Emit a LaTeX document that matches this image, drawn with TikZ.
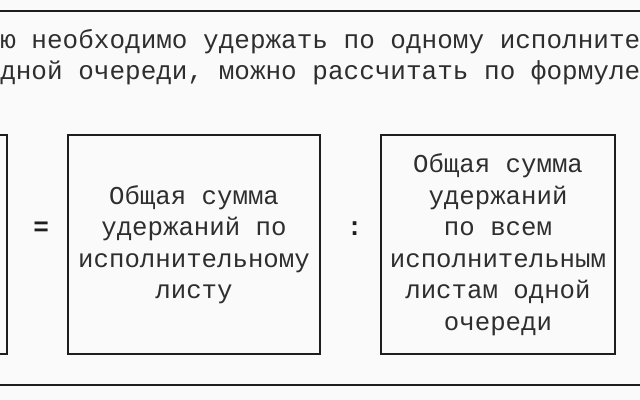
\documentclass[tikz,border=0pt]{standalone}
\usepackage{fontspec}
\setmonofont{Liberation Mono}
\usepackage{xcolor}
\usetikzlibrary{positioning}

\definecolor{inkgray}{HTML}{2E2E2E}
\definecolor{rulegray}{HTML}{1E1E1E}
\definecolor{paper}{HTML}{FAFAFA}

\tikzset{
  txtline/.style={anchor=west, inner sep=0pt, text=inkgray,
    font=\ttfamily\fontsize{18.5}{22.4}\selectfont},
  termbox/.style={draw=rulegray, line width=0.9pt, align=center, inner sep=0pt,
    minimum height=5.475cm, text=inkgray,
    font=\ttfamily\fontsize{18.3}{22.4}\selectfont},
  sign/.style={inner sep=0pt, text=rulegray, yshift=0.4cm,
    font=\ttfamily\bfseries\fontsize{18.5}{22.4}\selectfont},
  rule/.style={draw=rulegray, line width=0.9pt}
}

\begin{document}
\begin{tikzpicture}[x=0.025cm, y=-0.025cm]
\fill[paper] (0,0) rectangle (640,400);
\clip (0,0) rectangle (640,400);
% rules
\coordinate (topl) at (0,11);
\coordinate (topr) at (640,11);
\coordinate (botl) at (0,385);
\coordinate (botr) at (640,385);
\draw[rule] (topl) -- (topr);
\draw[rule] (botl) -- (botr);
% text above the formula
\node[txtline] (line1) at (0,42) {ю необходимо удержать по одному исполните};
\node[txtline] (line2) at (0,73) {дной очереди, можно рассчитать по формуле};
% formula
\node[termbox, minimum width=5.35cm] (result) at (-100,244.5) {};
\node[termbox, minimum width=6.3cm] (part) at (194,244.5)
  {Общая сумма\\удержаний по\\исполнительному\\листу};
\node[termbox, minimum width=5.85cm] (total) at (498,244.5)
  {Общая сумма\\удержаний\\по всем\\исполнительным\\листам одной\\очереди};
\node[sign, left=0.45cm of part] (eq) {=};
\node[sign, right=0.65cm of part] (divide) {:};
\end{tikzpicture}
\end{document}
